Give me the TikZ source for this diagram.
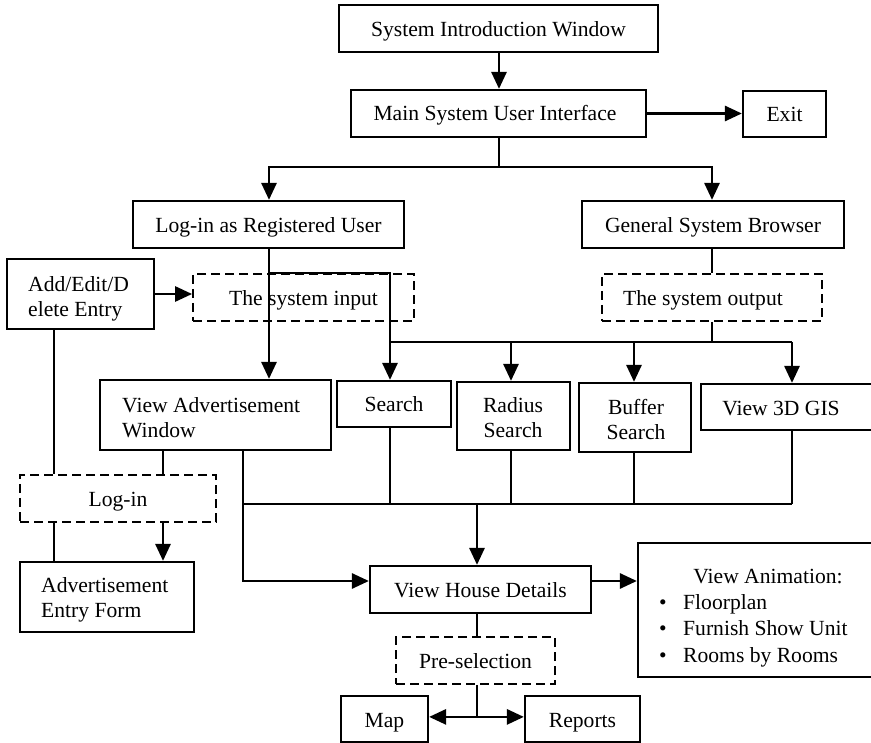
\documentclass[tikz,border=0pt]{standalone}
\usepackage{fontspec}
\setmainfont{Liberation Serif}
\usetikzlibrary{arrows.meta}
\begin{document}
\begin{tikzpicture}[x=1pt,y=-1pt,
  every node/.style={font=\fontsize{21.6}{25}\selectfont, text=black},
  box/.style={draw, line width=2.2pt, inner sep=0pt, text height=16pt, text depth=0pt},
  dbox/.style={draw, line width=1.8pt, dash pattern=on 9pt off 5pt, inner sep=0pt, text height=16pt, text depth=0pt},
  ln/.style={line width=2.2pt},
  arr/.style={line width=2.8pt, -{Triangle[length=17pt,width=15pt]}},
  txt/.style={inner sep=0pt}]
\useasboundingbox (0,0) rectangle (871,743);
\clip (0,0) rectangle (871,743);

% boxes along the main flow
\node[box, minimum width=319pt, minimum height=47pt] (intro) at (498.5,28.5) {System Introduction Window};
\node[box, minimum width=295pt, minimum height=47pt] (main) at (498.5,113.5) {};
\node[txt] (main-t) at (495,115) {Main System User Interface};
\node[box, minimum width=83pt, minimum height=46pt] (exit) at (784.5,114) {Exit};
\node[box, minimum width=271pt, minimum height=47pt] (login) at (268.5,224.5) {Log-in as Registered User};
\node[box, minimum width=262pt, minimum height=47pt] (general) at (713,224.5) {General System Browser};

% input / output stages
\node[box, minimum width=147pt, minimum height=70pt] (addedit) at (80.5,294) {};
\node[txt, align=left, anchor=west] (addedit-t) at (28,298.5) {Add/Edit/D\\elete Entry};
\node[dbox, minimum width=221pt, minimum height=47pt] (sysin) at (303.5,297.5) {The system input};
\node[dbox, minimum width=220pt, minimum height=47pt] (sysout) at (712,297.5) {};
\node[txt] (sysout-t) at (703,300) {The system output};

% functions
\node[box, minimum width=231pt, minimum height=70pt] (viewadv) at (215.5,415) {};
\node[txt, align=left, anchor=west] (viewadv-t) at (122,417.5) {View Advertisement\\Window};
\node[box, minimum width=114pt, minimum height=46pt] (search) at (394,404) {Search};
\node[box, minimum width=113pt, minimum height=68pt] (radius) at (513.5,416) {};
\node[txt, align=center] (radius-t) at (513,418) {Radius\\Search};
\node[box, minimum width=112pt, minimum height=69pt] (buffer) at (635,417.5) {};
\node[txt, align=center] (buffer-t) at (636,419.5) {Buffer\\Search};
\node[box, minimum width=179pt, minimum height=46pt] (gis) at (790.5,407) {};
\node[txt] (gis-t) at (781,408.5) {View 3D GIS};

% advertisement entry
\node[dbox, minimum width=196pt, minimum height=47pt] (logind) at (118,498.5) {Log-in};
\node[box, minimum width=174pt, minimum height=70pt] (entry) at (107,597) {};
\node[txt, align=left, anchor=west] (entry-t) at (41,600) {Advertisement\\Entry Form};

% house details and results
\node[box, minimum width=221pt, minimum height=47pt] (vh) at (480.5,589.5) {View House Details};
\node[box, minimum width=242pt, minimum height=134pt] (anim) at (759,610) {};
\node[txt] (anim-t) at (768,576.5) {View Animation:};
\node[txt, align=left, anchor=west, font=\fontsize{21.6}{26.5}\selectfont] (anim-l) at (659,630.5)
  {\makebox[24pt][l]{\textbullet}Floorplan\\\makebox[24pt][l]{\textbullet}Furnish Show Unit\\\makebox[24pt][l]{\textbullet}Rooms by Rooms};
\node[dbox, minimum width=159pt, minimum height=47pt] (presel) at (475.5,660.5) {Pre-selection};
\node[box, minimum width=87pt, minimum height=46pt] (map) at (384.5,719) {Map};
\node[box, minimum width=115pt, minimum height=46pt] (reports) at (582.5,719) {Reports};

% junction points
\coordinate (mj) at (499,167);
\coordinate (ij) at (269,273);
\coordinate (ol) at (390,342);
\coordinate (or) at (792,342);
\coordinate (bl) at (243,504);
\coordinate (br) at (792,504);
\coordinate (xa) at (54,0);
\coordinate (xb) at (163,0);
\coordinate (xr) at (511,0);
\coordinate (xu) at (634,0);
\coordinate (xh) at (477,0);
\coordinate (xg) at (712,0);

% top connectors
\draw[arr] (mj |- intro.south) -- (mj |- main.north);
\draw[arr] (main.east) -- (main.east -| exit.west);
\draw[ln] (mj |- main.south) -- (mj);
\draw[arr] (mj) -| (ij |- login.north);
\draw[arr] (mj) -| (xg |- general.north);

% registered user branch
\draw[arr] (ij |- login.south) -- (ij |- viewadv.north);
\draw[arr] (ij) -| (ol |- search.north);
\draw[arr] (addedit.east) -- (addedit.east -| sysin.west);

% browser branch
\draw[ln] (xg |- general.south) -- (xg |- sysout.north);
\draw[ln] (xg |- sysout.south) -- (xg |- ol);
\draw[ln] (ol) -- (or);
\draw[arr] (xr |- ol) -- (xr |- radius.north);
\draw[arr] (xu |- ol) -- (xu |- buffer.north);
\draw[arr] (or) -- (or |- gis.north);

% advertisement entry connectors
\draw[ln] (xa |- addedit.south) -- (xa |- logind.north);
\draw[ln] (xa |- logind.south) -- (xa |- entry.north);
\draw[ln] (xb |- viewadv.south) -- (xb |- logind.north);
\draw[arr] (xb |- logind.south) -- (xb |- entry.north);

% collecting bar into house details
\draw[ln] (bl) -- (br);
\draw[arr] (bl |- viewadv.south) |- ([yshift=8.5pt]vh.west);
\draw[ln] (ol |- search.south) -- (ol |- bl);
\draw[ln] (xr |- radius.south) -- (xr |- bl);
\draw[ln] (xu |- buffer.south) -- (xu |- bl);
\draw[ln] (or |- gis.south) -- (br);
\draw[arr] (xh |- bl) -- (xh |- vh.north);
\draw[arr] ([yshift=8.5pt]vh.east) -- ([yshift=8.5pt]vh.east -| anim.west);

% pre-selection outputs
\draw[ln] (xh |- vh.south) -- (xh |- presel.north);
\draw[ln] (xh |- presel.south) -- ++(0,32) coordinate (pj);
\draw[arr] (pj) -- (pj -| map.east);
\draw[arr] (pj) -- (pj -| reports.west);
\end{tikzpicture}
\end{document}
